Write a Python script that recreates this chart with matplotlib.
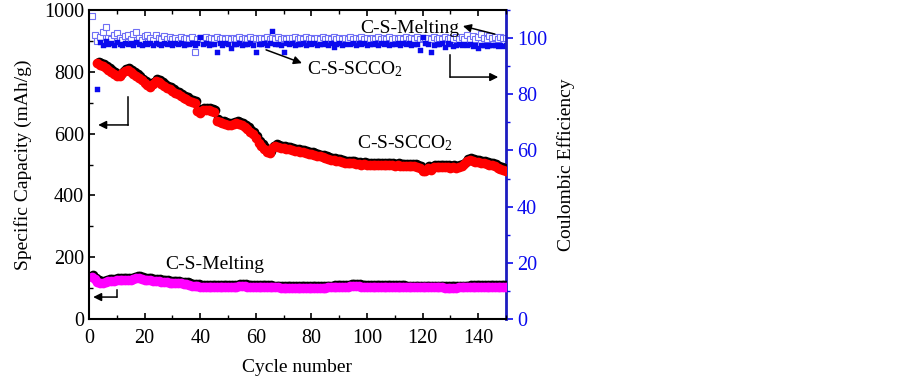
import matplotlib
matplotlib.use("Agg")
import matplotlib.pyplot as plt
import matplotlib.transforms as mtransforms
from matplotlib.ticker import MultipleLocator

plt.rcParams['font.family'] = ['Liberation Serif', 'DejaVu Serif']
plt.rcParams['mathtext.fontset'] = 'custom'
plt.rcParams['mathtext.rm'] = 'Liberation Serif'
plt.rcParams['mathtext.it'] = 'Liberation Serif:italic'

# ---------------- data ----------------
scco2_start = 3
scco2_capacity = [
    827, 822, 818, 812, 806, 800, 793, 787, 786, 795,
    803, 806, 800, 793, 787, 780, 772, 765, 757, 752,
    760, 770, 766, 760, 755, 749, 744, 738, 733, 727,
    721, 716, 711, 706, 702, 698, 672, 668, 676, 677,
    675, 672, 670, 640, 636, 633, 630, 628, 627, 630,
    634, 632, 627, 620, 614, 606, 598, 585, 570, 560,
    550, 542, 537, 555, 560, 557, 555, 553, 551, 549,
    547, 545, 543, 541, 540, 538, 535, 533, 530, 528,
    526, 523, 521, 518, 516, 514, 512, 510, 508, 506,
    505, 506, 505, 503, 502, 500, 501, 500, 499, 498,
    499, 500, 499, 498, 497, 498, 497, 496, 497, 496,
    495, 496, 495, 494, 494, 492, 490, 478, 480, 488,
    483, 492, 491, 492, 491, 492, 491, 490, 491, 490,
    491, 495, 502, 510, 514, 512, 509, 507, 505, 504,
    502, 500, 497, 494, 490, 486, 482, 478,
]

melting_start = 1
melting_capacity = [
    135, 128, 120, 116, 117, 120, 122, 123, 124, 125,
    126, 127, 126, 125, 127, 130, 133, 132, 129, 127,
    126, 125, 124, 123, 122, 121, 120, 119, 118, 118,
    117, 116, 115, 114, 112, 110, 108, 107, 106, 105,
    105, 104, 104, 103, 103, 103, 103, 103, 103, 104,
    104, 105, 105, 106, 106, 106, 105, 105, 105, 104,
    104, 104, 103, 103, 103, 102, 102, 102, 101, 101,
    101, 100, 100, 100, 99, 99, 99, 99, 99, 99,
    99, 100, 100, 101, 101, 102, 102, 103, 103, 104,
    104, 105, 105, 106, 106, 106, 106, 105, 105, 105,
    105, 104, 104, 104, 104, 104, 103, 103, 103, 103,
    103, 103, 103, 102, 102, 102, 102, 102, 102, 102,
    102, 102, 102, 102, 102, 102, 102, 101, 101, 101,
    101, 101, 102, 102, 102, 102, 103, 103, 103, 103,
    103, 103, 103, 103, 103, 103, 103, 103, 103, 103,
]

scco2_ce = [
    82.0, 98.5, 97.6, 98.8, 97.9, 98.3, 97.5, 98.6, 98.0, 97.7,
    98.4, 97.8, 98.2, 97.6, 98.5, 98.0, 97.4, 98.3, 97.9, 98.1,
    97.6, 98.4, 98.0, 97.7, 98.2, 97.9, 98.3, 97.5, 98.1, 97.8,
    98.2, 97.6, 98.0, 97.9, 98.3, 97.7, 98.1, 100.5, 97.8, 98.2,
    97.6, 98.0, 97.9, 95.1, 98.2, 97.7, 98.1, 97.9, 96.3, 98.0,
    97.8, 98.2, 97.6, 98.0, 97.9, 98.3, 97.7, 95.1, 98.0, 97.8,
    98.1, 97.6, 98.2, 102.6, 97.9, 98.0, 97.7, 95.1, 98.1, 97.8,
    98.2, 97.6, 98.0, 97.9, 98.3, 97.7, 98.1, 97.8, 98.2, 97.6,
    98.0, 97.9, 98.3, 97.7, 98.1, 96.9, 97.8, 98.2, 97.6, 98.0,
    11.0, 97.9, 98.3, 97.7, 98.1, 97.8, 98.2, 97.6, 98.0, 97.9,
    98.3, 97.7, 98.1, 97.8, 98.2, 97.6, 98.0, 97.9, 98.3, 97.7,
    98.1, 97.8, 98.2, 97.6, 98.0, 97.9, 95.7, 100.5, 98.1, 97.8,
    95.1, 97.6, 98.0, 97.9, 98.3, 96.9, 98.1, 97.8, 97.2, 97.6,
    97.9, 97.4, 97.8, 97.5, 97.9, 97.3, 97.7, 96.3, 97.4, 97.6,
    97.3, 97.7, 97.4, 97.6, 97.3, 97.5, 97.2, 97.4,
]

melting_ce = [
    108.0, 101.0, 99.0, 100.5, 102.0, 103.8, 100.0, 99.5, 101.0, 101.7,
    100.0, 99.2, 100.6, 101.2, 99.5, 101.5, 102.0, 100.2, 99.3, 100.6,
    101.0, 100.0, 99.2, 101.0, 100.1, 99.5, 100.8, 99.7, 100.4, 99.6,
    100.2, 99.4, 100.5, 99.8, 100.1, 99.5, 100.3, 95.1, 99.8, 100.2,
    99.6, 100.4, 99.7, 100.1, 99.5, 100.3, 99.8, 100.0, 99.6, 100.2,
    99.5, 100.1, 99.8, 100.4, 99.6, 100.0, 99.7, 100.3, 99.5, 100.1,
    99.8, 100.2, 99.6, 100.4, 99.7, 100.0, 99.5, 100.3, 99.8, 100.1,
    99.6, 100.2, 99.9, 100.4, 99.5, 100.0, 99.7, 100.3, 99.6, 100.1,
    99.8, 100.2, 99.5, 100.4, 99.7, 100.0, 99.6, 100.3, 99.8, 100.1,
    99.5, 100.2, 99.7, 100.4, 99.6, 100.0, 99.8, 100.3, 99.5, 100.1,
    99.7, 100.2, 99.6, 100.4, 99.8, 100.0, 99.5, 100.3, 99.7, 100.1,
    99.6, 100.2, 99.8, 100.4, 99.5, 100.0, 99.7, 100.3, 99.6, 100.1,
    99.8, 100.2, 99.5, 100.4, 99.7, 100.0, 99.6, 100.3, 99.8, 100.1,
    99.6, 100.5, 99.8, 100.3, 99.7, 101.0, 99.8, 100.6, 99.7, 100.4,
    101.6, 100.2, 99.8, 100.7, 99.9, 100.3, 99.8, 100.5, 99.9, 100.2,
]

x_ticks = [0, 20, 40, 60, 80, 100, 120, 140]
left_ticks = [0, 200, 400, 600, 800, 1000]
right_ticks = [0, 20, 40, 60, 80, 100]

scco2_cycles = list(range(scco2_start, scco2_start + len(scco2_capacity)))
melting_cycles = list(range(melting_start, melting_start + len(melting_capacity)))
scco2_ce_cycles = list(range(scco2_start, scco2_start + len(scco2_ce)))
melting_ce_cycles = list(range(melting_start, melting_start + len(melting_ce)))

# ---------------- figure ----------------
fig = plt.figure(figsize=(9.03, 3.84), dpi=100)
ax = fig.add_axes([89 / 903, 1 - 319 / 384, (506 - 89) / 903, (319 - 10) / 384])
ax2 = ax.twinx()
ax.set_zorder(ax2.get_zorder() + 1)
ax.patch.set_visible(False)

BLUE = '#0a0aee'
SPINE_BLUE = '#1c1cc0'

# CE (right axis)
ax2.plot(melting_ce_cycles, melting_ce, 's', ms=4.0, mfc='white', mec='#6f6ff5',
         mew=0.8, ls='none')
ax2.plot(scco2_ce_cycles, scco2_ce, 's', ms=3.6, mfc=BLUE, mec=BLUE, mew=0.3, ls='none')
ax2.set_ylim(0, 110)
ax2.set_yticks(right_ticks)
ax2.yaxis.set_minor_locator(MultipleLocator(10))
ax2.tick_params(axis='y', which='major', direction='out', length=5, width=1.2,
                colors=BLUE, labelsize=14.5, pad=3)
ax2.tick_params(axis='y', which='minor', direction='out', length=3, width=1.0, colors=BLUE)
for s in ['left', 'top', 'bottom']:
    ax2.spines[s].set_visible(False)
ax2.spines['right'].set_color(SPINE_BLUE)
ax2.spines['right'].set_linewidth(2.0)
ax2.set_ylabel('Coulombic Efficiency', fontsize=14, labelpad=7)

# capacity (left axis) with black shadow
shadow = ax.transData + mtransforms.ScaledTranslation(0.9 / 72, 1.4 / 72, fig.dpi_scale_trans)
ax.plot(scco2_cycles, scco2_capacity, 'o', ms=6, color='black', transform=shadow, ls='none')
ax.plot(scco2_cycles, scco2_capacity, 'o', ms=6, color='#ff0000', ls='none')
ax.plot(melting_cycles, melting_capacity, 'o', ms=6, color='black', transform=shadow, ls='none')
ax.plot(melting_cycles, melting_capacity, 'o', ms=6, color='#ff00ff', ls='none')

ax.set_xlim(0, 150)
ax.set_ylim(0, 1000)
ax.set_xticks(x_ticks)
ax.set_yticks(left_ticks)
ax.xaxis.set_minor_locator(MultipleLocator(10))
ax.yaxis.set_minor_locator(MultipleLocator(100))
ax.tick_params(axis='both', which='major', direction='in', length=4, width=1.2,
               labelsize=14.5, top=True, right=False)
ax.tick_params(axis='both', which='minor', direction='in', length=3, width=1.0,
               top=True, right=False)
ax.tick_params(axis='x', pad=7)
for s in ['left', 'top', 'bottom']:
    ax.spines[s].set_linewidth(1.5)
ax.spines['right'].set_visible(False)
ax.set_xlabel('Cycle number', fontsize=14, labelpad=8)
ax.set_ylabel('Specific Capacity (mAh/g)', fontsize=14, labelpad=9)

# annotations
ax.text(97.5, 926, 'C-S-Melting', fontsize=14, ha='left', va='baseline')
ax.text(78.4, 793, 'C-S-SCCO$_2$', fontsize=14, ha='left', va='baseline')
ax.text(96.4, 553, 'C-S-SCCO$_2$', fontsize=14, ha='left', va='baseline')
ax.text(27.3, 162, 'C-S-Melting', fontsize=14, ha='left', va='baseline')

arrow = dict(arrowstyle='-|>', color='black', lw=1.1, mutation_scale=12,
             shrinkA=0, shrinkB=0)
ax.annotate('', xy=(134.5, 948), xytext=(146, 922), arrowprops=arrow)
ax.annotate('', xy=(76.6, 828), xytext=(63.7, 871), arrowprops=arrow)

# bracket arrows
ax.plot([14.1, 14.1], [718, 628], color='black', lw=1.1)
ax.annotate('', xy=(3.3, 628), xytext=(14.1, 628), arrowprops=arrow)
ax.plot([10, 10], [94, 71], color='black', lw=1.1)
ax.annotate('', xy=(1.5, 71), xytext=(10, 71), arrowprops=arrow)
ax.plot([129.9, 129.9], [854, 783], color='black', lw=1.1)
ax.annotate('', xy=(147.2, 783), xytext=(129.9, 783), arrowprops=arrow)

fig.savefig('out.png', dpi=100)
